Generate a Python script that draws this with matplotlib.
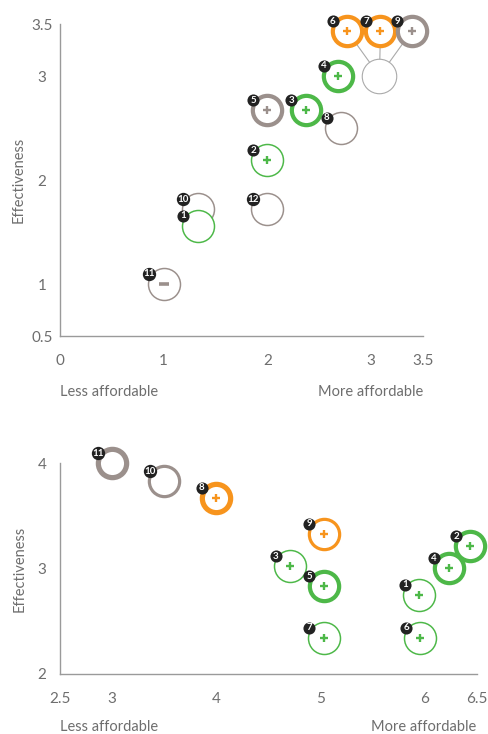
import matplotlib
matplotlib.use('Agg')
from matplotlib import pyplot as plt
from matplotlib.ticker import FormatStrFormatter
from matplotlib.transforms import offset_copy

# top chart
ids_a = [1, 2, 3, 4, 5, 6, 7, 8, 9, 10, 11, 12]
x_a = [1.33, 2.0, 2.37, 2.68, 2.0, 2.77, 3.09, 2.71, 3.39, 1.33, 1.0, 2.0]
y_a = [1.56, 2.19, 2.67, 3.0, 2.67, 3.43, 3.43, 2.5, 3.43, 1.72, 1.0, 1.72]
color_a = ['green', 'green', 'green', 'green', 'gray', 'orange', 'orange',
           'gray', 'gray', 'gray', 'gray', 'gray']
weight_a = ['thin', 'thin', 'thick', 'thick', 'thick', 'thick', 'thick',
            'thin', 'thick', 'thin', 'thin', 'thin']
sign_a = ['', '+', '+', '+', '+', '+', '+', '', '+', '', '-', '']
group_a = (3.08, 3.0)
group_members_a = [6, 7, 9]
xticks_a = [0, 1, 2, 3, 3.5]
yticks_a = [0.5, 1, 2, 3, 3.5]

# bottom chart
ids_b = [1, 2, 3, 4, 5, 6, 7, 8, 9, 10, 11]
x_b = [5.95, 6.44, 4.71, 6.23, 5.03, 5.96, 5.03, 4.0, 5.03, 3.5, 3.0]
y_b = [2.75, 3.21, 3.02, 3.0, 2.83, 2.34, 2.34, 3.67, 3.33, 3.83, 4.0]
color_b = ['green'] * 7 + ['orange', 'orange', 'gray', 'gray']
weight_b = ['thin', 'thick', 'thin', 'thick', 'thick', 'thin', 'thin',
            'xthick', 'medium', 'medium', 'xthick']
sign_b = ['+'] * 9 + ['', '']
xticks_b = [2.5, 3, 4, 5, 6, 6.5]
yticks_b = [2, 3, 4]

COLORS = {'green': '#4db848', 'orange': '#f7941d', 'gray': '#9b908c'}
WIDTH_PX = {'thin': 1.5, 'medium': 3.2, 'thick': 4.2, 'xthick': 5.2}
TEXT = '#6e6e6e'
PT = 0.72  # points per pixel at dpi 100

plt.rcParams['font.family'] = ['Lato', 'DejaVu Sans']

fig = plt.figure(figsize=(4.89, 7.34), dpi=100)


def setup(ax, xlim, ylim, xticks, yticks, label_x, text_y):
    ax.set_xlim(*xlim)
    ax.set_ylim(*ylim)
    ax.set_xticks(xticks)
    ax.set_yticks(yticks)
    ax.xaxis.set_major_formatter(FormatStrFormatter('%g'))
    ax.yaxis.set_major_formatter(FormatStrFormatter('%g'))
    for s in ['top', 'right']:
        ax.spines[s].set_visible(False)
    for s in ['left', 'bottom']:
        ax.spines[s].set_color('#9a9a9a')
        ax.spines[s].set_linewidth(1.0)
    ax.tick_params(axis='x', length=0, pad=13, labelsize=11, labelcolor=TEXT)
    ax.tick_params(axis='y', length=0, pad=13, labelsize=11, labelcolor=TEXT)
    for lab in ax.get_yticklabels():
        lab.set_horizontalalignment('center')
    ax.set_ylabel('Effectiveness', color=TEXT, fontsize=10.5)
    ax.yaxis.label.set_verticalalignment('center')
    ax.yaxis.set_label_coords(label_x, 0.5)
    ax.text(0, text_y, 'Less affordable', transform=ax.transAxes, ha='left',
            va='center', color=TEXT, fontsize=10.5)
    ax.text(1, text_y, 'More affordable', transform=ax.transAxes, ha='right',
            va='center', color=TEXT, fontsize=10.5)


def draw_points(ax, ids, xs, ys, colors, weights, signs):
    badge_tr = offset_copy(ax.transData, fig=fig, x=-10.4, y=7.2, units='points')
    order = sorted(range(len(ids)), key=lambda i: -ys[i])
    for z, i in enumerate(order):
        col = COLORS[colors[i]]
        lw = WIDTH_PX[weights[i]]
        d = (33.5 - lw) * PT
        ax.scatter([xs[i]], [ys[i]], s=d ** 2, facecolors='white', edgecolors=col,
                   linewidths=lw * PT, zorder=3 + z * 0.01, clip_on=False)
        if signs[i] == '+':
            ax.scatter([xs[i]], [ys[i]], marker='+', s=40, color=col,
                       linewidths=1.7, zorder=3.5, clip_on=False)
        elif signs[i] == '-':
            ax.scatter([xs[i]], [ys[i]], marker='_', s=44, color=col,
                       linewidths=2.6, zorder=3.5, clip_on=False)
    for i in range(len(ids)):
        bs = 92 if ids[i] >= 10 else 76
        ax.scatter([xs[i]], [ys[i]], s=bs, color='#222222', transform=badge_tr,
                   zorder=5, clip_on=False, linewidths=0)
        ax.annotate(str(ids[i]), (xs[i], ys[i]), xytext=(-10.4, 7.2),
                    textcoords='offset points', ha='center', va='center',
                    color='white', fontsize=7, fontweight='bold', zorder=6,
                    annotation_clip=False)


# top axes
ax1 = fig.add_axes([60 / 489, 1 - 336 / 734, 363 / 489, 312 / 734])
setup(ax1, (0, 3.5), (0.5, 3.5), xticks_a, yticks_a, -0.113, -0.179)
for m in group_members_a:
    i = ids_a.index(m)
    ax1.plot([group_a[0], x_a[i]], [group_a[1], y_a[i]], color='#aaaaaa',
             lw=0.8, zorder=2, clip_on=False)
ax1.scatter([group_a[0]], [group_a[1]], s=(34.5 * PT) ** 2, facecolors='white',
            edgecolors='#aaaaaa', linewidths=0.8, zorder=2.5, clip_on=False)
draw_points(ax1, ids_a, x_a, y_a, color_a, weight_a, sign_a)

# bottom axes
ax2 = fig.add_axes([60 / 489, 1 - 673.5 / 734, 416.7 / 489, 210.2 / 734])
setup(ax2, (2.5, 6.5), (2, 4), xticks_b, yticks_b, -0.098, -0.2545)
draw_points(ax2, ids_b, x_b, y_b, color_b, weight_b, sign_b)

fig.savefig('out.png', dpi=100)
